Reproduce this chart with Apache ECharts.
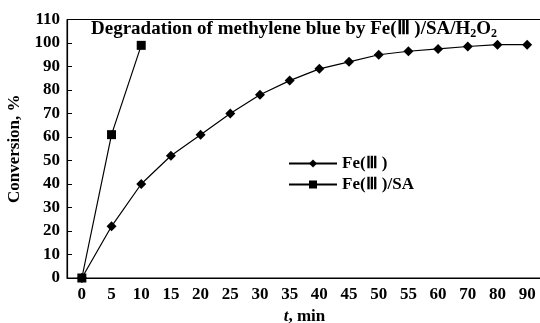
<!DOCTYPE html>
<html><head><meta charset="utf-8">
<script src="https://cdn.jsdelivr.net/npm/echarts@6/dist/echarts.min.js"></script>
<style>html,body{margin:0;padding:0;background:#fff}#c{width:540px;height:323px}</style>
</head><body><div id="c"></div>
<script>
var categories = ['0','5','10','15','20','25','30','35','40','45','50','55','60','70','80','90'];
var feIII = [0, 22, 40, 52, 61, 70, 78, 84, 89, 92, 95, 96.5, 97.5, 98.5, 99.3, 99.3];
var feIIISA = [0, 61, 99];
var yTicks = {min: 0, max: 110, interval: 10};

var FONT = '"Liberation Serif","Times New Roman",serif';
var chart = echarts.init(document.getElementById('c'), null, {renderer: 'canvas'});
chart.setOption({
  animation: false,
  backgroundColor: '#fff',
  title: {
    text: '{a|Degradation of methylene blue by Fe(Ⅲ )/SA/H}{s|2}{a|O}{s|2}',
    left: 86, top: 14,
    textStyle: {
      rich: {
        a: {fontFamily: FONT, fontWeight: 'bold', fontSize: 19, color: '#000', lineHeight: 21},
        s: {fontFamily: FONT, fontWeight: 'bold', fontSize: 12, color: '#000', lineHeight: 21, verticalAlign: 'bottom', padding: [7, 0, 0, 0]}
      }
    }
  },
  legend: {
    orient: 'vertical', left: 283, top: 150, itemGap: 4,
    itemWidth: 48, itemHeight: 10,
    textStyle: {fontFamily: FONT, fontWeight: 'bold', fontSize: 17, color: '#000'},
    data: ['Fe(Ⅲ )', 'Fe(Ⅲ )/SA']
  },
  grid: {left: 67, top: 19.5, width: 475, height: 258.5, show: true, borderColor: '#000', borderWidth: 1,
         containLabel: false, outerBoundsMode: 'none'},
  xAxis: {
    type: 'category', data: categories, boundaryGap: true,
    axisLine: {lineStyle: {color: '#000', width: 1.2}},
    axisTick: {inside: true, length: 5, lineStyle: {color: '#000'}},
    axisLabel: {fontFamily: FONT, fontWeight: 'bold', fontSize: 17, color: '#000', margin: 8},
    name: '{i|t}{n|, min}', nameLocation: 'middle', nameGap: 27,
    nameTextStyle: {rich: {
      i: {fontFamily: FONT, fontStyle: 'italic', fontWeight: 'bold', fontSize: 17, color: '#000'},
      n: {fontFamily: FONT, fontWeight: 'bold', fontSize: 17, color: '#000'}
    }},
    splitLine: {show: false}
  },
  yAxis: {
    type: 'value', min: yTicks.min, max: yTicks.max, interval: yTicks.interval,
    axisLine: {show: true, lineStyle: {color: '#000', width: 1.2}},
    axisTick: {show: true, inside: true, length: 5, lineStyle: {color: '#000'}},
    axisLabel: {fontFamily: FONT, fontWeight: 'bold', fontSize: 17, color: '#000', margin: 7},
    name: 'Conversion, %', nameLocation: 'middle', nameGap: 42,
    nameTextStyle: {fontFamily: FONT, fontWeight: 'bold', fontSize: 17, color: '#000'},
    splitLine: {show: false}
  },
  series: [
    {name: 'Fe(Ⅲ )', type: 'line', data: feIII, symbol: 'diamond', symbolSize: 10,
     lineStyle: {color: '#000', width: 1.2}, itemStyle: {color: '#000'}},
    {name: 'Fe(Ⅲ )/SA', type: 'line', data: feIIISA, symbol: 'rect', symbolSize: 9,
     lineStyle: {color: '#000', width: 1.2}, itemStyle: {color: '#000'}}
  ]
});
</script></body></html>
